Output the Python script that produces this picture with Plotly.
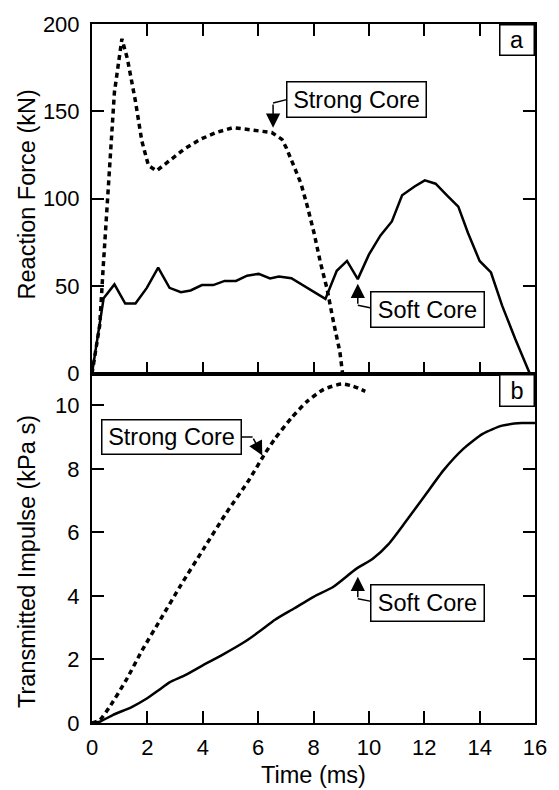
import plotly.graph_objects as go

# ---- data ----
# (a) Reaction force, kN
t_soft_a = [0, 0.42, 0.81, 1.2, 1.57, 1.98, 2.39, 2.8, 3.21, 3.56, 3.97, 4.38, 4.79, 5.2, 5.6,
            6.02, 6.43, 6.75, 7.2, 7.67, 8.08, 8.43, 8.84, 9.21, 9.6, 10.0, 10.42, 10.83, 11.2,
            11.65, 12.02, 12.41, 12.82, 13.23, 13.58, 14.0, 14.41, 14.81, 15.28, 15.81]
f_soft_a = [0, 43, 51, 40, 40, 49, 60.6, 49, 46.5, 47.5, 50.6, 50.6, 53, 53, 56,
            57, 54.4, 55.5, 54.5, 50, 45.6, 42.7, 58.8, 64.4, 54, 68, 79, 87, 102,
            107, 110.5, 108.6, 102, 95.5, 80.4, 64.4, 57.8, 39, 20, 0]

t_strong_a = [0, 0.28, 0.4, 0.57, 0.81, 1.08, 1.28, 1.57, 1.8, 2.04, 2.33, 2.8, 3.33, 3.91,
              4.5, 5.09, 5.67, 6.49, 6.86, 7.02, 7.31, 7.55, 7.78, 8.02, 8.25, 8.49, 8.72, 8.95, 9.05]
f_strong_a = [0, 27.7, 59.7, 105, 161, 191.5, 180, 155.7, 133, 119, 116, 121.8, 128.4, 134,
              138, 140.7, 139.7, 137.9, 134, 129, 118, 108.6, 95.5, 80.4, 63.5, 48.4, 29.6, 12.6, 0]

# (b) Transmitted impulse, kPa s
t_soft_b = [0, 0.28, 0.75, 1.45, 1.98, 2.39, 2.8, 3.33, 3.97, 4.74, 5.56, 6.14, 6.61, 7.31,
            8.02, 8.72, 9.54, 10.13, 10.71, 11.3, 12.0, 12.7, 13.41, 14.11, 14.81, 15.52, 16.0]
i_soft_b = [0, 0.04, 0.25, 0.51, 0.77, 1.02, 1.28, 1.49, 1.8, 2.16, 2.58, 2.94, 3.25, 3.61,
            3.98, 4.29, 4.85, 5.16, 5.63, 6.3, 7.13, 7.96, 8.63, 9.1, 9.36, 9.44, 9.44]

t_strong_b = [0, 0.28, 0.63, 1.22, 1.8, 2.5, 3.21, 4.03, 4.85, 5.67, 6.26, 6.61, 7.2, 7.78,
              8.37, 9.01, 9.43, 9.87]
i_strong_b = [0, 0.09, 0.5, 1.33, 2.27, 3.3, 4.34, 5.48, 6.61, 7.65, 8.5, 8.95, 9.6, 10.13,
              10.5, 10.67, 10.6, 10.44]

x_ticks = [0, 2, 4, 6, 8, 10, 12, 14, 16]
ya_ticks = [0, 50, 100, 150, 200]
yb_ticks = [0, 2, 4, 6, 8, 10]

FONT = "Liberation Sans, Arial, sans-serif"
BLACK = "#000000"

fig = go.Figure()
fig.add_trace(go.Scatter(x=t_soft_a, y=f_soft_a, mode="lines", xaxis="x", yaxis="y",
                         line=dict(color=BLACK, width=2.5), showlegend=False))
fig.add_trace(go.Scatter(x=t_strong_a, y=f_strong_a, mode="lines", xaxis="x", yaxis="y",
                         line=dict(color=BLACK, width=3.5, dash="5px,4px"), showlegend=False))
fig.add_trace(go.Scatter(x=t_soft_b, y=i_soft_b, mode="lines", xaxis="x2", yaxis="y2",
                         line=dict(color=BLACK, width=2.5, shape="spline", smoothing=0.6),
                         showlegend=False))
fig.add_trace(go.Scatter(x=t_strong_b, y=i_strong_b, mode="lines", xaxis="x2", yaxis="y2",
                         line=dict(color=BLACK, width=3.5, dash="5px,4px", shape="spline",
                                   smoothing=0.6),
                         showlegend=False))

axis_common = dict(ticks="inside", ticklen=12, tickwidth=2, tickcolor=BLACK,
                   showline=True, linewidth=2, linecolor=BLACK, showgrid=False,
                   zeroline=False, tickfont=dict(family=FONT, size=22, color=BLACK))

fig.update_layout(
    width=559, height=790,
    margin=dict(l=92, r=12, t=15, b=67),
    paper_bgcolor="white", plot_bgcolor="white",
    xaxis=dict(domain=[0, 1], anchor="y", range=[0, 16], tickvals=x_ticks,
               showticklabels=False, mirror="ticks", **axis_common),
    yaxis=dict(domain=[0.5, 1], anchor="x", range=[0, 200], tickvals=ya_ticks,
               mirror="ticks", ticklabelstandoff=6, **axis_common),
    xaxis2=dict(domain=[0, 1], anchor="y2", range=[0, 16], tickvals=x_ticks,
                mirror=True, ticklabelstandoff=4, **axis_common),
    yaxis2=dict(domain=[0, 0.5], anchor="x2", range=[0, 11], tickvals=yb_ticks,
                mirror="ticks", ticklabelstandoff=6, **axis_common),
)

TF = dict(family=FONT, size=23.5, color=BLACK)
ann = []
# axis titles
ann.append(dict(text="Reaction Force (kN)", xref="paper", yref="paper", x=-0.147, y=0.756,
                textangle=-90, showarrow=False, font=TF, xanchor="center", yanchor="middle"))
ann.append(dict(text="Transmitted Impulse (kPa s)", xref="paper", yref="paper", x=-0.147,
                y=0.2316, textangle=-90, showarrow=False, font=TF, xanchor="center",
                yanchor="middle"))
ann.append(dict(text="Time (ms)", xref="paper", yref="paper", x=0.5, y=-0.0749,
                showarrow=False, font=TF, xanchor="center", yanchor="middle"))

# panel letters
box = dict(bordercolor=BLACK, borderwidth=1.5, bgcolor="white", borderpad=1, showarrow=False,
           font=TF)
ann.append(dict(text="a", xref="paper", yref="paper", x=1, y=1, xanchor="right",
                yanchor="top", width=31, height=27, **box))
ann.append(dict(text="b", xref="paper", yref="paper", x=1, y=0.5, xanchor="right",
                yanchor="top", width=31, height=28, **box))

# labelled boxes
ann.append(dict(text="Strong Core", xref="x", yref="y", x=9.56, y=157, width=136, height=32, **box))
ann.append(dict(text="Soft Core", xref="x", yref="y", x=12.13, y=36.7, width=110, height=32, **box))
ann.append(dict(text="Strong Core", xref="x2", yref="y2", x=2.88, y=8.99, width=136, height=31, **box))
ann.append(dict(text="Soft Core", xref="x2", yref="y2", x=12.13, y=3.77, width=110, height=33, **box))

# arrows (final segments)
arr = dict(showarrow=True, arrowhead=2, arrowsize=1.9, arrowwidth=1.5, arrowcolor=BLACK,
           text="", standoff=0, startstandoff=0)
ann.append(dict(xref="x", yref="y", axref="x", ayref="y", x=6.54, y=140.7, ax=6.54, ay=154.8, **arr))
ann.append(dict(xref="x", yref="y", axref="x", ayref="y", x=9.6, y=51.4, ax=9.6, ay=39, **arr))
ann.append(dict(xref="x2", yref="y2", axref="x2", ayref="y2", x=6.15, y=8.42, ax=5.8, ay=9.0, **arr))
ann.append(dict(xref="x2", yref="y2", axref="x2", ayref="y2", x=9.6, y=4.6, ax=9.6, ay=3.91, **arr))
fig.update_layout(annotations=ann)

# connector segments from box edge to arrow elbow
seg = dict(type="line", line=dict(color=BLACK, width=1.5))
shapes = [
    dict(xref="x", yref="y", x0=7.1, y0=157, x1=6.54, y1=154.8, **seg),
    dict(xref="x", yref="y", x0=10.13, y0=37.3, x1=9.6, y1=39, **seg),
    dict(xref="x2", yref="y2", x0=5.34, y0=9.0, x1=5.8, y1=9.0, **seg),
    dict(xref="x2", yref="y2", x0=10.13, y0=3.82, x1=9.6, y1=3.91, **seg),
]
fig.update_layout(shapes=shapes)

fig.write_html("out.html")
